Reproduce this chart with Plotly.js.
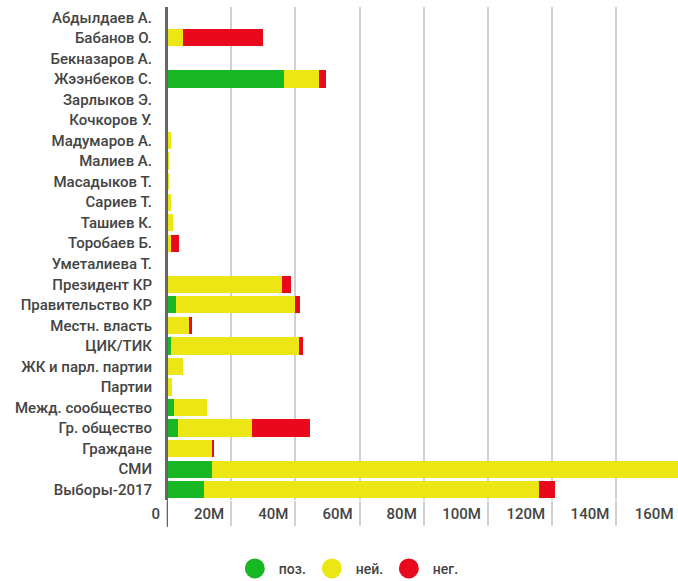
<!DOCTYPE html>
<html>
<head>
<meta charset="utf-8">
<script src="https://cdn.plot.ly/plotly-3.0.1.min.js"></script>
<style>
html, body { margin: 0; padding: 0; overflow: hidden; background: #fff; }
#chart { width: 685px; height: 581px; }
</style>
</head>
<body>
<div id="chart"></div>
<script>
// Categories (top to bottom)
const categories = [
  "Абдылдаев А.", "Бабанов О.", "Бекназаров А.", "Жээнбеков С.", "Зарлыков Э.",
  "Кочкоров У.", "Мадумаров А.", "Малиев А.", "Масадыков Т.", "Сариев Т.",
  "Ташиев К.", "Торобаев Б.", "Уметалиева Т.", "Президент КР", "Правительство КР",
  "Местн. власть", "ЦИК/ТИК", "ЖК и парл. партии", "Партии", "Межд. сообщество",
  "Гр. общество", "Граждане", "СМИ", "Выборы-2017"
];

// Values in millions
const positive = [0, 0, 0, 36.5, 0, 0, 0, 0, 0, 0, 0, 0, 0, 0, 2.9, 0, 1.4, 0, 0, 2.2, 3.4, 0, 13.9, 11.4];
const neutral  = [0, 5.1, 0, 10.9, 0, 0, 1.2, 0.7, 0.6, 1.1, 2.0, 1.4, 0.4, 35.7, 36.9, 6.9, 39.6, 5.1, 1.6, 10.3, 23.1, 13.9, 155, 104.6];
const negative = [0, 24.7, 0, 2.1, 0, 0, 0, 0, 0, 0, 0, 2.3, 0, 2.9, 1.7, 0.8, 1.3, 0, 0, 0, 18.2, 0.8, 0, 5.0];

const seriesNames = ["поз.", "ней.", "нег."];
const seriesColors = ["#17b823", "#ece614", "#e9091d"];
const tickValues = [0, 20, 40, 60, 80, 100, 120, 140, 160];
const tickLabels = ["0", "20M", "40M", "60M", "80M", "100M", "120M", "140M", "160M"];

const M = 1e6;
const seriesData = [positive, neutral, negative];

const traces = [];
seriesData.forEach((vals, i) => {
  traces.push({
    type: "bar",
    orientation: "h",
    y: categories,
    x: vals.map(v => v * M),
    name: seriesNames[i],
    marker: { color: seriesColors[i], line: { width: 0 } },
    showlegend: false,
    hoverinfo: "x+y+name"
  });
});
// legend entries as circles
seriesNames.forEach((n, i) => {
  traces.push({
    type: "scatter",
    mode: "markers",
    x: [null], y: [null],
    name: n,
    marker: { color: seriesColors[i], size: 16, symbol: "circle", line: { color: seriesColors[i], width: 4 } },
    showlegend: true
  });
});

const font = { family: "Roboto, sans-serif", size: 15, color: "#444", weight: 500 };
const legendFont = { family: "Roboto, sans-serif", size: 14, color: "#444", weight: 500 };

const layout = {
  width: 685,
  height: 581,
  margin: { l: 167, r: 0, t: 7, b: 81, pad: 0 },
  paper_bgcolor: "#fff",
  plot_bgcolor: "#fff",
  barmode: "stack",
  bargap: 0.16,
  font: font,
  xaxis: {
    range: [0, 161.4 * M],
    tickvals: tickValues.map(v => v * M),
    ticktext: tickLabels,
    showgrid: true,
    gridcolor: "#d0d0d0",
    gridwidth: 2,
    zeroline: false,
    showline: false,
    ticks: "outside",
    ticklen: 25,
    tickwidth: 2,
    tickcolor: "#d0d0d0",
    ticklabelposition: "outside left",
    ticklabelshift: -6,
    tickfont: font,
    fixedrange: true
  },
  yaxis: {
    type: "category",
    categoryorder: "array",
    categoryarray: categories,
    autorange: "reversed",
    showgrid: false,
    showline: true,
    linecolor: "#666",
    linewidth: 2,
    ticks: "",
    ticklabelstandoff: 10,
    tickfont: font,
    fixedrange: true
  },
  shapes: [{
    type: "line", xref: "x", yref: "paper",
    x0: 0, x1: 0, y0: -0.055, y1: 1,
    line: { color: "#666", width: 2 }
  }],
  showlegend: true,
  legend: {
    orientation: "h",
    traceorder: "normal",
    xref: "container", yref: "container",
    x: 0.337, xanchor: "left",
    y: 0.021, yanchor: "middle",
    itemwidth: 38,
    entrywidth: 24,
    font: legendFont,
    bgcolor: "rgba(0,0,0,0)"
  }
};

Plotly.newPlot("chart", traces, layout, { displayModeBar: false, staticPlot: true });
</script>
</body>
</html>
